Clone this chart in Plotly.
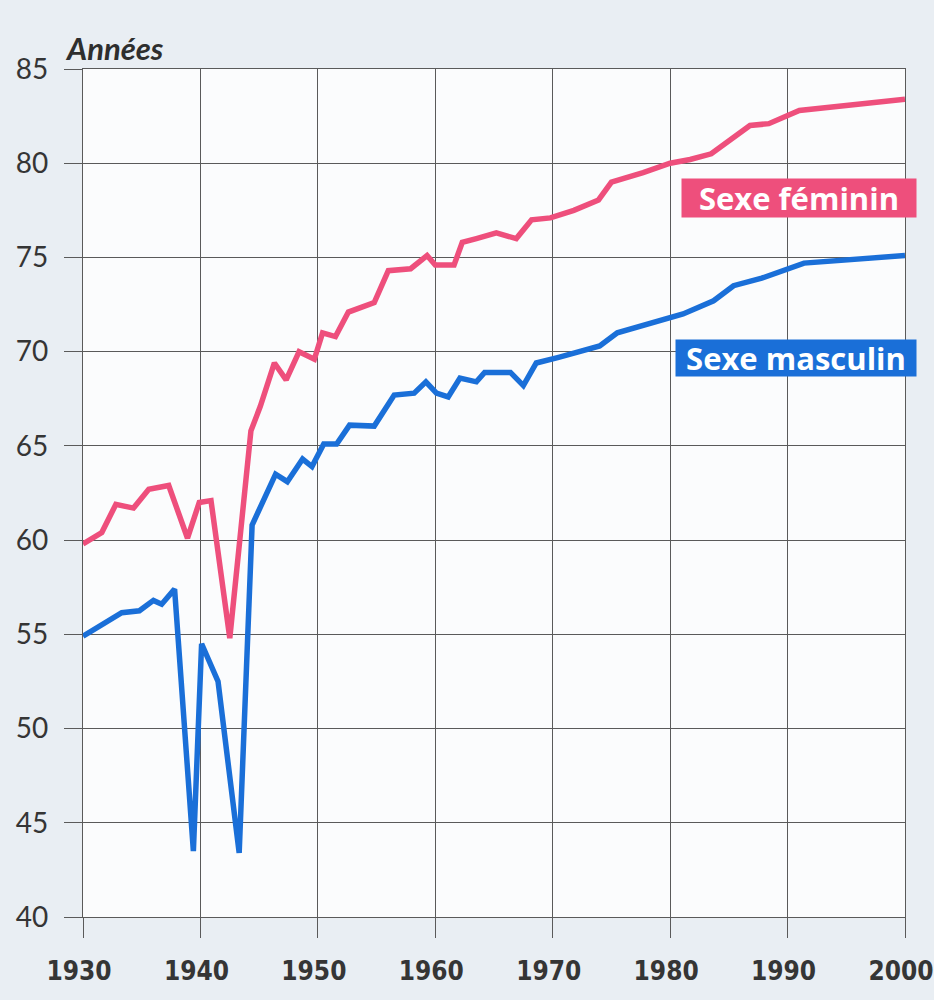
import plotly.graph_objects as go

# Espérance de vie à la naissance (France)
years_f = [1930, 1931.6, 1932.8, 1934.3, 1935.6, 1937.3, 1938.9, 1939.9, 1940.9, 1942.5,
           1944.3, 1945.1, 1946.3, 1947.3, 1948.4, 1949.7, 1950.4, 1951.5, 1952.6, 1954.8,
           1956.0, 1957.9, 1959.3, 1960.0, 1961.6, 1962.3, 1963.5, 1965.2, 1966.9, 1968.2,
           1969.8, 1971.8, 1973.9, 1975.0, 1977.7, 1980.0, 1981.7, 1983.5, 1986.8, 1988.4,
           1991.0, 2000]
vals_f = [59.8, 60.4, 61.9, 61.7, 62.7, 62.9, 60.1, 62.0, 62.1, 54.8,
          65.8, 67.1, 69.4, 68.5, 70.0, 69.6, 71.0, 70.8, 72.1, 72.6,
          74.3, 74.4, 75.1, 74.6, 74.6, 75.8, 76.0, 76.3, 76.0, 77.0,
          77.1, 77.5, 78.05, 79.0, 79.5, 80.0, 80.2, 80.5, 82.0, 82.1,
          82.8, 83.4]

years_m = [1930, 1933.3, 1934.8, 1936.0, 1936.7, 1937.8, 1939.4, 1940.1, 1941.5, 1943.3,
           1944.4, 1946.4, 1947.4, 1948.7, 1949.5, 1950.5, 1951.6, 1952.7, 1954.8, 1956.5,
           1958.2, 1959.2, 1960.1, 1961.1, 1962.1, 1963.5, 1964.2, 1966.4, 1967.5, 1968.6,
           1970.5, 1971.8, 1974.0, 1975.5, 1980.0, 1981.1, 1983.7, 1985.4, 1987.8, 1991.4,
           2000]
vals_m = [54.9, 56.15, 56.25, 56.8, 56.6, 57.4, 43.5, 54.5, 52.5, 43.4,
          60.8, 63.5, 63.1, 64.3, 63.9, 65.1, 65.1, 66.1, 66.05, 67.7,
          67.8, 68.4, 67.8, 67.6, 68.6, 68.4, 68.9, 68.9, 68.2, 69.4,
          69.7, 69.9, 70.3, 71.0, 71.8, 72.0, 72.7, 73.5, 73.9, 74.7,
          75.1]

x_ticks = [1930, 1940, 1950, 1960, 1970, 1980, 1990, 2000]
y_ticks = [40, 45, 50, 55, 60, 65, 70, 75, 80, 85]

PINK = "#ee4f7c"
BLUE = "#1a6fd8"
GRID = "#5a5a5a"
TXT = "#353535"

fig = go.Figure()
fig.add_trace(go.Scatter(x=years_f, y=vals_f, mode="lines", name="Sexe féminin",
                         line=dict(color=PINK, width=5.5)))
fig.add_trace(go.Scatter(x=years_m, y=vals_m, mode="lines", name="Sexe masculin",
                         line=dict(color=BLUE, width=5.5)))

fig.update_layout(
    width=934, height=1000,
    margin=dict(l=83, r=29, t=69, b=83, autoexpand=False),
    paper_bgcolor="#e9eef3",
    plot_bgcolor="#fbfcfd",
    showlegend=False,
    font=dict(family="Lato, 'Open Sans', sans-serif", color=TXT),
)
fig.update_xaxes(
    range=[1930, 2000], tickvals=x_ticks, ticktext=[str(v) for v in x_ticks],
    showgrid=True, gridcolor=GRID, gridwidth=1.2,
    showline=True, linecolor=GRID, linewidth=1.2, mirror=True,
    ticks="outside", ticklen=20, tickcolor=GRID, tickwidth=1.2,
    ticklabelstandoff=11, ticklabeloverflow="allow", ticklabelshift=-4, automargin=False,
    tickfont=dict(family="DejaVu Sans Condensed, DejaVu Sans, sans-serif",
                  size=26, color=TXT, weight="bold"),
    zeroline=False,
)
fig.update_yaxes(
    range=[40, 85], tickvals=y_ticks,
    showgrid=True, gridcolor=GRID, gridwidth=1.2,
    showline=True, linecolor=GRID, linewidth=1.2, mirror=True,
    ticks="outside", ticklen=18, tickcolor=GRID, tickwidth=1.2,
    ticklabelstandoff=10, automargin=False,
    tickfont=dict(family="Lato, 'Open Sans', sans-serif", size=28, color=TXT),
    zeroline=False,
)

fig.add_annotation(text="<b><i>Années</i></b>", xref="paper", yref="paper",
                   x=-0.024, y=1.0, xanchor="left", yanchor="bottom", yshift=0,
                   showarrow=False, font=dict(size=31, color="#2e2e2e"))
fig.add_annotation(text="<b>Sexe féminin</b>", xref="paper", yref="y",
                   x=1.0146, y=78.15, xanchor="right", yanchor="middle",
                   showarrow=False, bgcolor=PINK, borderpad=4, width=226, height=30,
                   font=dict(family="'Open Sans', Lato, sans-serif", size=31, color="white"))
fig.add_annotation(text="<b>Sexe masculin</b>", xref="paper", yref="y",
                   x=1.0146, y=69.66, xanchor="right", yanchor="middle",
                   showarrow=False, bgcolor=BLUE, borderpad=4, width=232, height=28,
                   font=dict(family="'Open Sans', Lato, sans-serif", size=31, color="white"))

fig.write_html("out.html", config={"displayModeBar": False},
               post_script="document.body.style.margin='0';")
